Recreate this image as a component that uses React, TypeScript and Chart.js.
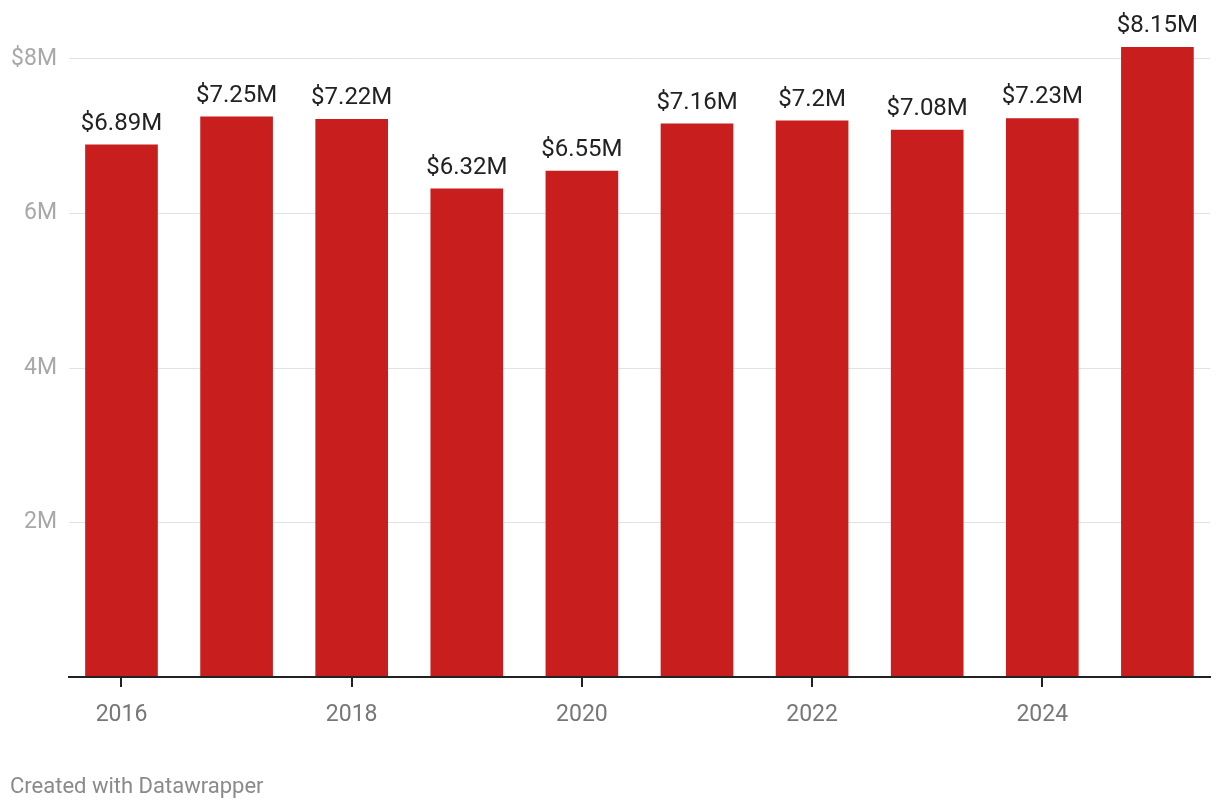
import React, { useEffect, useRef } from "react";
import { Chart, registerables } from "chart.js";

Chart.register(...registerables);

const years = [2016, 2017, 2018, 2019, 2020, 2021, 2022, 2023, 2024, 2025];
const values = [6.89, 7.25, 7.22, 6.32, 6.55, 7.16, 7.2, 7.08, 7.23, 8.15];
const xTicks = [2016, 2018, 2020, 2022, 2024];
const yTicks = [2, 4, 6, 8];
const footer = "Created with Datawrapper";

const FONT = "Roboto, 'Noto Sans', sans-serif";

export default function App() {
  const ref = useRef<HTMLCanvasElement>(null);
  useEffect(() => {
    const canvas = ref.current!;
    const labelPlugin = {
      id: "labels",
      afterDatasetsDraw(chart: any) {
        const ctx = chart.ctx;
        const meta = chart.getDatasetMeta(0);
        ctx.save();
        ctx.font = `24px ${FONT}`;
        ctx.fillStyle = "#222";
        ctx.textAlign = "center";
        ctx.textBaseline = "alphabetic";
        meta.data.forEach((bar: any, i: number) => {
          ctx.fillText(`$${values[i]}M`, bar.x, bar.y - 15);
        });
        ctx.restore();
      },
      afterDraw(chart: any) {
        const ctx = chart.ctx;
        const xs = chart.scales.x;
        const bottom = chart.chartArea.bottom;
        ctx.save();
        ctx.strokeStyle = "#222";
        ctx.lineWidth = 2;
        xTicks.forEach((v) => {
          const px = Math.round(xs.getPixelForValue(v));
          ctx.beginPath();
          ctx.moveTo(px, bottom);
          ctx.lineTo(px, bottom + 10);
          ctx.stroke();
        });
        ctx.font = `22px ${FONT}`;
        ctx.fillStyle = "#8a8a8a";
        ctx.textAlign = "left";
        ctx.textBaseline = "middle";
        ctx.fillText(footer, 10, 787);
        ctx.restore();
      },
    };
    const chart = new Chart(canvas, {
      type: "bar",
      data: {
        datasets: [
          {
            data: years.map((y, i) => ({ x: y, y: values[i] })),
            backgroundColor: "#c81e1e",
            barThickness: 72,
          },
        ],
      },
      options: {
        animation: false,
        responsive: false,
        layout: { padding: { left: 0, right: 10, top: 0, bottom: 0 } },
        plugins: { legend: { display: false }, tooltip: { enabled: false } },
        scales: {
          x: {
            type: "linear",
            min: 2015.544,
            max: 2025.457,
            offset: false,
            afterBuildTicks: (s: any) => {
              s.ticks = xTicks.map((v) => ({ value: v }));
            },
            afterFit: (s: any) => {
              s.height = 133;
              s.paddingLeft = 0;
              s.paddingRight = 0;
            },
            border: { display: true, color: "#222", width: 2, z: 1 },
            grid: {
              offset: false,
              display: false,
              drawOnChartArea: false,
              drawTicks: false,
            },
            ticks: {
              color: "#777",
              font: { family: FONT, size: 23 },
              padding: 24,
              maxRotation: 0,
              callback: (v: any) => String(v),
            },
          },
          y: {
            type: "linear",
            min: 0,
            max: 677 / 77.25,
            afterBuildTicks: (s: any) => {
              s.ticks = yTicks.map((v) => ({ value: v }));
            },
            afterFit: (s: any) => {
              s.width = 69;
              s.paddingTop = 0;
              s.paddingBottom = 0;
            },
            border: { display: false },
            grid: { color: "#e2e2e2", lineWidth: 1, drawTicks: false },
            ticks: {
              color: "#a8a8a8",
              font: { family: FONT, size: 23 },
              padding: 12,
              callback: (v: any) => (v === 8 ? `$${v}M` : `${v}M`),
            },
          },
        },
      },
      plugins: [labelPlugin],
    });
    return () => chart.destroy();
  }, []);
  return (
    <div style={{ position: "absolute", left: 0, top: 0, width: 1220, height: 810, background: "#fff" }}>
      <canvas ref={ref} width={1220} height={810} />
    </div>
  );
}
